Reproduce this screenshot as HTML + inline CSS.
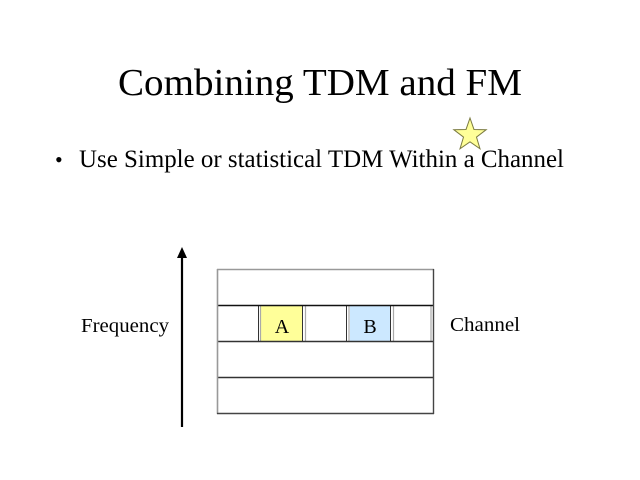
<!DOCTYPE html>
<html>
<head>
<meta charset="utf-8">
<style>
html,body{margin:0;padding:0;background:#fff;}
svg{display:block;}
text{font-family:"Liberation Serif","Times New Roman",serif;fill:#000;}
</style>
</head>
<body>
<svg width="640" height="480" viewBox="0 0 640 480" xmlns="http://www.w3.org/2000/svg">
  <rect x="0" y="0" width="640" height="480" fill="#fff"/>
  <!-- Title -->
  <text x="118" y="95" font-size="38" textLength="404" lengthAdjust="spacingAndGlyphs">Combining TDM and FM</text>
  <!-- Bullet -->
  <text x="55" y="167" font-size="22">•</text>
  <text x="79" y="167" font-size="25" textLength="485" lengthAdjust="spacingAndGlyphs">Use Simple or statistical TDM Within a Channel</text>
  <!-- Star -->
  <polygon points="470,118 474.0,129.5 486.2,129.7 476.5,137.1 480.0,148.8 470,141.8 460.0,148.8 463.5,137.1 453.8,129.7 466.0,129.5" fill="#ffff99" stroke="#7a7a40" stroke-width="1"/>

  <!-- Arrow -->
  <line x1="182" y1="427" x2="182" y2="255" stroke="#000" stroke-width="2.2"/>
  <polygon points="182,247 177,258 187,258" fill="#000"/>

  <!-- Labels -->
  <text x="81" y="332" font-size="20" textLength="88" lengthAdjust="spacingAndGlyphs">Frequency</text>
  <text x="450" y="331" font-size="20" textLength="70" lengthAdjust="spacingAndGlyphs">Channel</text>

  <!-- Table -->
  <!-- slot fills -->
  <rect x="261" y="306" width="41" height="35" fill="#ffff99"/>
  <rect x="350" y="306" width="40" height="35" fill="#cce8ff"/>
  <!-- slot lines -->
  <line x1="258.5" y1="305" x2="258.5" y2="341" stroke="#333" stroke-width="1"/>
  <line x1="260.5" y1="305" x2="260.5" y2="341" stroke="#aaa" stroke-width="1.2"/>
  <line x1="302.5" y1="305" x2="302.5" y2="341" stroke="#333" stroke-width="1"/>
  <line x1="305.5" y1="305" x2="305.5" y2="341" stroke="#aaa" stroke-width="1.2"/>
  <line x1="346.5" y1="305" x2="346.5" y2="341" stroke="#333" stroke-width="1"/>
  <line x1="349" y1="305" x2="349" y2="341" stroke="#aaa" stroke-width="1.2"/>
  <line x1="390.5" y1="305" x2="390.5" y2="341" stroke="#333" stroke-width="1"/>
  <line x1="393.5" y1="305" x2="393.5" y2="341" stroke="#aaa" stroke-width="1.2"/>
  <line x1="431" y1="305" x2="431" y2="341" stroke="#aaa" stroke-width="1.2"/>
  <!-- horizontal rows -->
  <line x1="218" y1="305.5" x2="434" y2="305.5" stroke="#111" stroke-width="1.6"/>
  <line x1="218" y1="341.5" x2="434" y2="341.5" stroke="#333" stroke-width="1.4"/>
  <line x1="218" y1="377.5" x2="434" y2="377.5" stroke="#333" stroke-width="1.4"/>
  <!-- outer border -->
  <line x1="217.5" y1="269" x2="217.5" y2="414" stroke="#999" stroke-width="1.6"/>
  <line x1="217" y1="269.5" x2="434" y2="269.5" stroke="#999" stroke-width="1.6"/>
  <line x1="433.5" y1="269" x2="433.5" y2="414" stroke="#444" stroke-width="1.4"/>
  <line x1="217" y1="413.5" x2="434" y2="413.5" stroke="#444" stroke-width="1.4"/>

  <!-- A / B -->
  <text x="282" y="333" font-size="20" text-anchor="middle">A</text>
  <text x="370" y="333" font-size="20" text-anchor="middle">B</text>
</svg>
</body>
</html>
